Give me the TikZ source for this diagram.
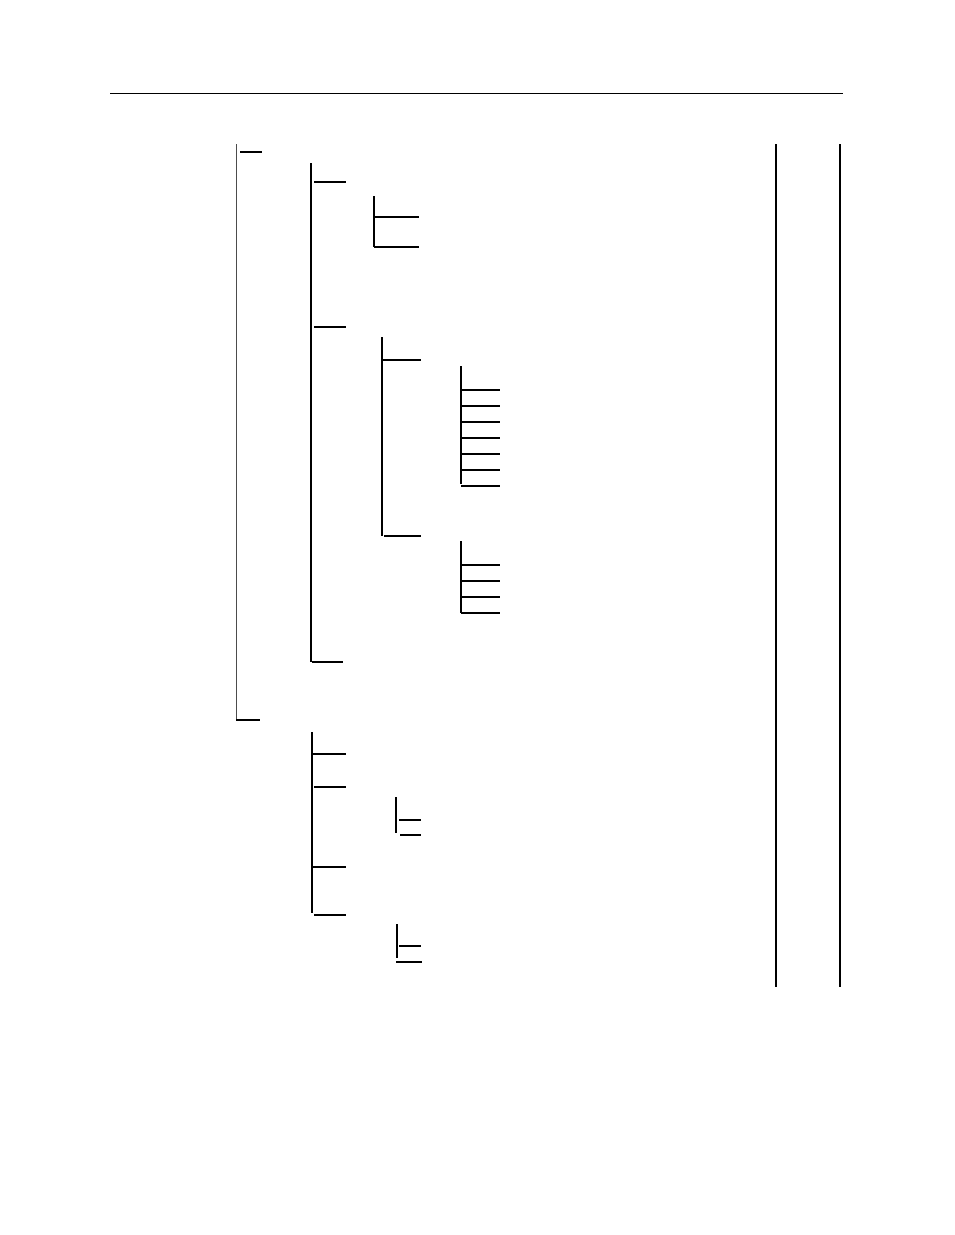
\documentclass[tikz,border=0pt]{standalone}
\usepackage{tikz}

\begin{document}
\begin{tikzpicture}[x=1pt, y=-1pt,
  rule/.style={line width=1.1pt},
  stem/.style={line width=1.2pt},
  mainstem/.style={line width=1.5pt, black!70},
  twig/.style={line width=1.1pt},
  rail/.style={line width=1.8pt}
]
\useasboundingbox (0,0) rectangle (954,1235);

% Header rule
\coordinate (ruleL) at (110,93.5);
\coordinate (ruleR) at (843,93.5);
\draw[rule] (ruleL) -- (ruleR);

% Level 0 (root bracket)
\coordinate (rootTop) at (236.5,144);
\coordinate (rootBot) at (236.5,720);
\draw[mainstem] (rootTop) -- (rootBot);
\draw[twig] (240,152) -- (262,152);
\draw[twig] (236,720) -- (260,720);

% Level 1 (first branch)
\coordinate (aTop) at (311,163);
\coordinate (aBot) at (311,662);
\draw[stem] (aTop) -- (aBot);
\draw[twig] (314,182) -- (346,182);
\draw[twig] (314,327) -- (346,327);
\draw[twig] (312,662) -- (343,662);

% Level 2 (under first twig)
\coordinate (bTop) at (374,196);
\coordinate (bBot) at (374,247);
\draw[stem] (bTop) -- (bBot);
\foreach \y in {217,247}
  \draw[twig] (374,\y) -- (419,\y);

% Level 2 (under second twig)
\coordinate (cTop) at (382,337);
\coordinate (cBot) at (382,536);
\draw[stem] (cTop) -- (cBot);
\draw[twig] (382,360) -- (421,360);
\draw[twig] (384,536) -- (421,536);

% Level 3 (leaves)
\coordinate (dTop) at (461,366);
\coordinate (dBot) at (461,484);
\draw[stem] (dTop) -- (dBot);
\foreach \y in {390,406,...,486}
  \draw[twig] (461,\y) -- (500,\y);

\coordinate (eTop) at (461,541);
\coordinate (eBot) at (461,613);
\draw[stem] (eTop) -- (eBot);
\foreach \y in {565,581,597,613}
  \draw[twig] (461,\y) -- (500,\y);

% Level 1 (second branch)
\coordinate (fTop) at (312,732);
\coordinate (fBot) at (312,913);
\draw[stem] (fTop) -- (fBot);
\draw[twig] (312,754) -- (346,754);
\draw[twig] (314,787) -- (346,787);
\draw[twig] (312,867) -- (346,867);
\draw[twig] (314,915) -- (346,915);

% Level 2 (second branch)
\coordinate (gTop) at (396,797);
\coordinate (gBot) at (396,833);
\draw[stem] (gTop) -- (gBot);
\draw[twig] (399,820) -- (421,820);
\draw[twig] (400,835) -- (421,835);

\coordinate (hTop) at (397,924);
\coordinate (hBot) at (397,958);
\draw[stem] (hTop) -- (hBot);
\draw[twig] (399,946) -- (421,946);
\draw[twig] (396,962) -- (422,962);

% Right rails
\coordinate (railATop) at (776,144);
\coordinate (railABot) at (776,987);
\coordinate (railBTop) at (840,144);
\coordinate (railBBot) at (840,987);
\draw[rail] (railATop) -- (railABot);
\draw[rail] (railBTop) -- (railBBot);

\end{tikzpicture}
\end{document}
